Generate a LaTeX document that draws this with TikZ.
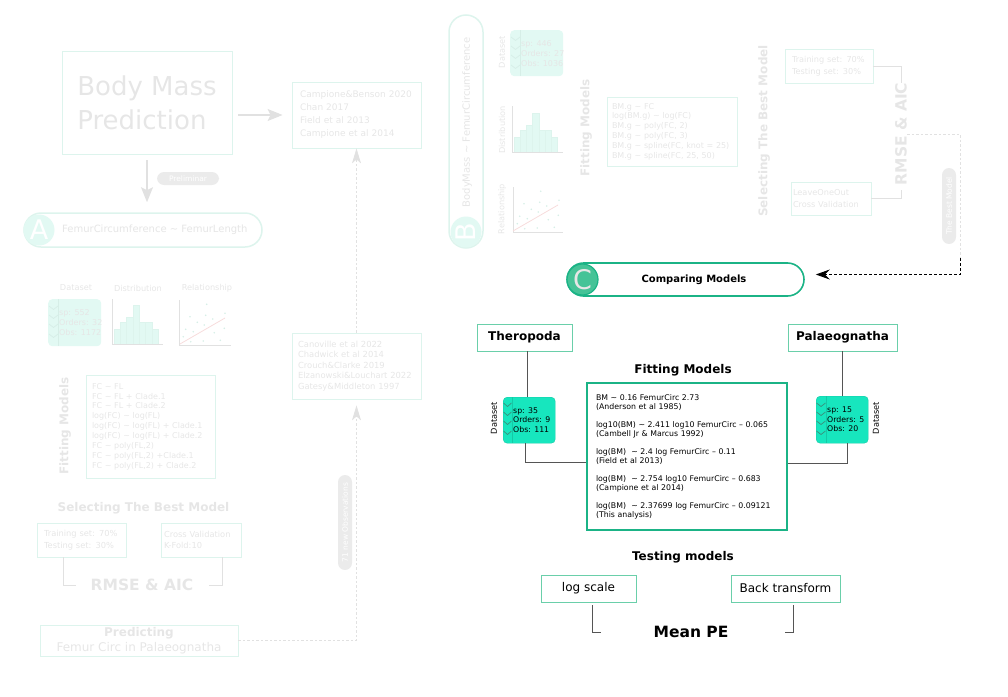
\documentclass[tikz,border=0pt]{standalone}
\usepackage{fontspec}
\setmainfont{DejaVu Sans}
\usetikzlibrary{arrows.meta}
\definecolor{fadetxt}{HTML}{E6E6E6}
\definecolor{fadeln}{HTML}{DDF4ED}
\definecolor{fadefill}{HTML}{E2F9F3}
\definecolor{fadepill}{HTML}{EBEBEB}
\definecolor{fadegray}{HTML}{E1E1E1}
\definecolor{fadered}{HTML}{F7DCDC}
\definecolor{fadedot}{HTML}{D6EEE7}
\definecolor{greenedge}{HTML}{1BB386}
\definecolor{mintedge}{HTML}{6ACFAA}
\definecolor{dsfill}{HTML}{17E6BE}
\definecolor{dsedge}{HTML}{14C9A6}
\definecolor{chevdark}{HTML}{3B8F7C}
\definecolor{cfill}{HTML}{45C397}
\definecolor{linkgray}{HTML}{555555}
\newcommand{\tlde}{\textasciitilde}
\begin{document}
\begin{tikzpicture}[x=1pt,y=-1pt,>=Stealth,
  fbox/.style={draw=fadeln,line width=0.8pt,text=fadetxt,inner sep=0pt,align=left},
  ftext/.style={text=fadetxt,inner sep=0pt},
  fpill/.style={fill=fadepill,text=white,rounded corners=7pt,inner sep=0pt,font=\fontsize{7.5}{9}\selectfont},
  fround/.style={draw=fadeln,line width=1.5pt,rounded corners=17pt,fill=white},
  fcirc/.style={circle,fill=fadefill,text=white,minimum size=31pt,inner sep=0pt,font=\fontsize{27}{30}\selectfont},
  fline/.style={fadegray,line width=0.9pt},
  farrow/.style={fadegray,line width=1.3pt,-{Stealth[length=15pt,width=12pt,inset=3pt]}},
  fdash/.style={fadegray,line width=0.8pt,dash pattern=on 2.5pt off 2pt},
  fup/.style={-{Stealth[length=15pt,width=9pt,inset=4pt]}},
  fbar/.style={draw=fadeln,fill=fadefill,line width=0.6pt},
  fdset/.style={fill=fadefill,rounded corners=4pt,minimum width=53pt,minimum height=47pt,inner sep=0pt},
  abox/.style={draw=mintedge,line width=0.9pt,minimum height=27pt,inner sep=0pt},
  adset/.style={draw=dsedge,fill=dsfill,rounded corners=4pt,minimum width=52pt,minimum height=46pt,inner sep=0pt},
  link/.style={linkgray,line width=0.9pt},
  flabel/.style={font=\fontsize{8.2}{10}\selectfont},
  fsmall/.style={font=\fontsize{8.3}{11.5}\selectfont},
  fmodel/.style={font=\fontsize{8}{9.85}\selectfont},
  dstext/.style={anchor=west,inner sep=0pt,align=left,font=\fontsize{7.8}{9.7}\selectfont},
  titleb/.style={font=\fontsize{12}{14}\selectfont\bfseries},
  bigb/.style={font=\fontsize{15.5}{18}\selectfont\bfseries},
]
\useasboundingbox (0,0) rectangle (1008,696);

% ---------- A : femur circumference ----------
\node[fbox,align=left,minimum width=170pt,minimum height=103pt,font=\fontsize{26}{34}\selectfont] (bmp) at (147,102.5) {Body Mass\\Prediction};
\node[fbox,minimum height=66pt,text width=113pt,inner xsep=8pt,font=\fontsize{9}{13}\selectfont] (refs1) at (356.5,115)
  {Campione\&Benson 2020\\Chan 2017\\Field et al 2013\\Campione et al 2014};
\draw[farrow,shorten <=6pt,shorten >=9pt] (bmp.east |- refs1.west) -- (refs1.west);

\node[fround,minimum width=238pt,minimum height=34pt] (apill) at (143,230) {};
\node[fcirc] (acirc) at (39,230) {A};
\node[ftext,anchor=west,font=\fontsize{10}{12}\selectfont] (alab) at (62,230) {FemurCircumference \tlde{} FemurLength};
\draw[farrow,shorten <=6pt,shorten >=10pt] (bmp.south) -- (bmp.south |- apill.north);
\node[fpill,minimum width=62pt,minimum height=13pt] (prelim) at (188,178.5) {Preliminar};

\node[ftext,flabel] (dsAt) at (76,288) {Dataset};
\node[ftext,flabel] (distAt) at (138,288) {Distribution};
\node[ftext,flabel] (relAt) at (207,288) {Relationship};
\begin{scope}[shift={(48,299)}]
  \node[fdset,anchor=north west] (dsA) at (0,0) {};
  \draw[fadedot,line width=0.7pt] (10,0) -- (10,47);
  \foreach \y in {9,18,27,37} \draw[fadedot,line width=0.7pt] (1,\y-2) -- (5.5,\y+1.5) -- (10,\y-2);
  \node[dstext,text=fadetxt,font=\fontsize{8}{9.6}\selectfont] (dsAtxt) at (11,23.5) {sp: 552\\Orders: 32\\Obs: 1172};
\end{scope}
\begin{scope}[shift={(112,344)}]
  \foreach \i/\h in {0/14.7,1/21.7,2/26.7,3/38.3,4/21.7,5/21.7,6/14.7}
    \draw[fbar] (2+\i*6.3,0) rectangle ++(6.3,-\h);
  \draw[fline] (0,-45) -- (0,0) -- (51,0);
\end{scope}
\begin{scope}[shift={(179,345)}]
  \draw[fline] (0,-45) -- (0,0) -- (52,0);
  \draw[fadered,line width=0.8pt] (1,-1) -- (46,-27);
  \foreach \a/\b in {27.7/-40.7,11/-28.3,26.7/-29.7,46/-31.7,33.7/-26,18.3/-22.7,25.3/-20,6.7/-15.7,14.3/-13.3,35.3/-12.3,45.3/-16.7,4.3/-8.3,11.7/-3.3,24.3/-4,41.3/-4.7}
    \fill[fadedot] (\a,\b) circle (0.9pt);
\end{scope}

\node[ftext,titleb,rotate=90] (fitAt) at (65,426) {Fitting Models};
\node[fbox,fmodel,minimum height=103pt,text width=117pt,inner xsep=6pt] (fitA) at (150.5,426.5)
  {FC \tlde{} FL\\FC \tlde{} FL + Clade.1\\FC \tlde{} FL + Clade.2\\log(FC) \tlde{} log(FL)\\log(FC) \tlde{} log(FL) + Clade.1\\log(FC) \tlde{} log(FL) + Clade.2\\FC \tlde{} poly(FL,2)\\FC \tlde{} poly(FL,2) +Clade.1\\FC \tlde{} poly(FL,2) + Clade.2};

\node[ftext,titleb] (selAt) at (143.5,508) {Selecting The Best Model};
\node[fbox,fsmall,minimum height=34pt,text width=75pt,inner xsep=7pt] (trainA) at (81.5,540) {Training set: 70\%\\Testing set: 30\%};
\node[fbox,fsmall,minimum height=34pt,text width=74pt,inner xsep=3pt] (crossA) at (201,540) {Cross Validation\\K-Fold:10};
\node[ftext,bigb] (rmseA) at (142,585) {RMSE \& AIC};
\draw[fline] ([xshift=-18.5pt]trainA.south) |- ([xshift=-15pt]rmseA.west);
\draw[fline] ([xshift=21pt]crossA.south) |- ([xshift=16pt]rmseA.east);

\node[fbox,align=center,minimum width=198pt,minimum height=31pt,font=\fontsize{12}{15}\selectfont] (pred) at (139,640.5)
  {\bfseries Predicting\\Femur Circ in Palaeognatha};
\node[fbox,minimum height=66pt,text width=117pt,inner xsep=6pt,font=\fontsize{8.4}{10.5}\selectfont] (refs2) at (356.5,366)
  {Canoville et al 2022\\Chadwick et al 2014\\Crouch\&Clarke 2019\\Elzanowski\&Louchart 2022\\Gatesy\&Middleton 1997};
\draw[fdash,fup,shorten >=6pt] (pred.east) -| (refs2.south);
\draw[fdash,fup] (refs2.north) -- (refs1.south);
\node[fpill,rotate=90,minimum width=95pt,minimum height=14pt] (obs) at (345,522.5) {71 new Observations};

% ---------- B : body mass ----------
\node[fround,minimum width=34pt,minimum height=233pt] (bpill) at (466,131.5) {};
\node[fcirc,rotate=90] (bcirc) at (466,232) {B};
\node[ftext,rotate=90,font=\fontsize{10}{12}\selectfont] (blab) at (467,122.5) {BodyMass \tlde{} FemurCircumference};

\node[ftext,flabel,rotate=90] (dsBt) at (502,52) {Dataset};
\node[ftext,flabel,rotate=90] (distBt) at (502,130) {Distribution};
\node[ftext,flabel,rotate=90] (relBt) at (502,209) {Relationship};
\begin{scope}[shift={(510,30)}]
  \node[fdset,anchor=north west,minimum height=46pt] (dsB) at (0,0) {};
  \draw[fadedot,line width=0.7pt] (10,0) -- (10,46);
  \foreach \y in {9,18,27,37} \draw[fadedot,line width=0.7pt] (1,\y-2) -- (5.5,\y+1.5) -- (10,\y-2);
  \node[dstext,text=fadetxt,font=\fontsize{8}{9.6}\selectfont] (dsBtxt) at (11,23.5) {sp: 446\\Orders: 27\\Obs: 1036};
\end{scope}
\begin{scope}[shift={(512,152)}]
  \foreach \i/\h in {0/15,1/22,2/27,3/38.5,4/22,5/22,6/15}
    \draw[fbar] (2+\i*6.2,0) rectangle ++(6.2,-\h);
  \draw[fline] (0,-46) -- (0,0) -- (51,0);
\end{scope}
\begin{scope}[shift={(513,232)}]
  \draw[fline] (0,-45) -- (0,0) -- (50,0);
  \draw[fadered,line width=0.8pt] (0,-1) -- (45,-27);
  \foreach \a/\b in {27.7/-40.7,11/-28.3,26.7/-29.7,46/-31.7,33.7/-26,18.3/-22.7,25.3/-20,6.7/-15.7,14.3/-13.3,35.3/-12.3,45.3/-16.7,4.3/-8.3,11.7/-3.3,24.3/-4,41.3/-4.7}
    \fill[fadedot] (\a,\b) circle (0.9pt);
\end{scope}

\node[ftext,titleb,rotate=90] (fitBt) at (586,128) {Fitting Models};
\node[fbox,fmodel,minimum height=69pt,text width=120pt,inner xsep=5pt] (fitB) at (672,131.5)
  {BM.g \tlde{} FC\\log(BM.g) \tlde{} log(FC)\\BM.g \tlde{} poly(FC, 2)\\BM.g \tlde{} poly(FC, 3)\\BM.g \tlde{} spline(FC, knot = 25)\\BM.g \tlde{} spline(FC, 25, 50)};

\node[ftext,titleb,rotate=90] (selBt) at (764,131) {Selecting The Best Model};
\node[fbox,font=\fontsize{8.2}{12.3}\selectfont,minimum height=34pt,text width=74pt,inner xsep=7pt] (trainB) at (829,66) {Training set: 70\%\\Testing set: 30\%};
\node[fbox,font=\fontsize{8.2}{12.3}\selectfont,minimum height=33pt,text width=76pt,inner xsep=2pt] (looB) at (831,198.5) {LeaveOneOut\\Cross Validation};
\node[ftext,bigb,rotate=90] (rmseB) at (901,134) {RMSE \& AIC};
\draw[fline] (trainB.east) -| (rmseB.east);
\draw[fline] (looB.east) -| ([yshift=-5pt]rmseB.west);
\node[fpill,rotate=90,minimum width=76pt,minimum height=14pt] (best) at (949,206) {The Best Model};

% ---------- C : comparing models ----------
\node[draw=greenedge,line width=1.6pt,rounded corners=16.5pt,minimum width=237pt,minimum height=33pt] (cpill) at (685.5,279.5) {};
\node[circle,draw=greenedge,line width=1.2pt,fill=cfill,text=fadetxt,minimum size=31pt,inner sep=0pt,font=\fontsize{27}{30}\selectfont] (ccirc) at (582.5,279.5) {C};
\node[font=\fontsize{10}{12}\selectfont\bfseries] (clab) at (694,280) {Comparing Models};
\coordinate (blk) at (960,258);
\draw[fdash] (rmseB.south) -| (blk);
\draw[line width=0.9pt,dash pattern=on 3pt off 2pt,-{Stealth[length=14pt,width=10pt,inset=5pt]}] (blk) |- ([xshift=11pt,yshift=5pt]cpill.east);

\node[abox,titleb,minimum width=95pt] (thero) at (524.5,337.5) {Theropoda};
\node[abox,titleb,minimum width=109pt] (palaeo) at (842.5,337.5) {Palaeognatha};
\node[titleb] (fitCt) at (683,370) {Fitting Models};
\node[draw=greenedge,line width=2pt,minimum height=147pt,text width=182pt,inner xsep=9pt,inner ysep=0pt,align=left,font=\fontsize{7.8}{9}\selectfont] (fit) at (687,456.5)
  {BM \tlde{} 0.16 FemurCirc 2.73\\(Anderson et al 1985)\\[9pt]
   log10(BM) \tlde{} 2.411 log10 FemurCirc – 0.065\\(Cambell Jr \& Marcus 1992)\\[9pt]
   log(BM)\ \ \tlde{} 2.4 log FemurCirc – 0.11\\(Field et al 2013)\\[9pt]
   log(BM)\ \ \tlde{} 2.754 log10 FemurCirc – 0.683\\(Campione et al 2014)\\[9pt]
   log(BM)\ \ \tlde{} 2.37699 log FemurCirc – 0.09121\\(This analysis)};

\node[rotate=90,flabel] (dsLt) at (494,418) {Dataset};
\begin{scope}[shift={(503,397)}]
  \node[adset,anchor=north west] (dsL) at (0,0) {};
  \draw[dsedge,line width=0.7pt] (9,0) -- (9,46);
  \foreach \y in {8,17,26,36} \draw[chevdark,line width=0.7pt] (0.5,\y-2) -- (4.5,\y+1.5) -- (8.5,\y-2);
  \node[dstext] (dsLtxt) at (10,23) {sp: 35\\Orders: 9\\Obs: 111};
\end{scope}
\node[rotate=90,flabel] (dsRt) at (876,418) {Dataset};
\begin{scope}[shift={(816,396)}]
  \node[adset,anchor=north west,minimum height=47pt] (dsR) at (0,0) {};
  \draw[dsedge,line width=0.7pt] (10,0) -- (10,47);
  \foreach \y in {9,18,27,37} \draw[chevdark,line width=0.7pt] (0.5,\y-2) -- (5,\y+1.5) -- (9.5,\y-2);
  \node[dstext] (dsRtxt) at (11,23.5) {sp: 15\\Orders: 5\\Obs: 20};
\end{scope}
\draw[link] ([xshift=3pt]thero.south) -- ([xshift=3pt]thero.south |- dsL.north);
\draw[link] (palaeo.south) -- (palaeo.south |- dsR.north);
\draw[link] ([xshift=-4pt]dsL.south) |- ([yshift=-5.5pt]fit.west);
\draw[link] ([xshift=5pt]dsR.south) |- ([yshift=-6.5pt]fit.east);

\node[titleb] (testt) at (683,557) {Testing models};
\node[abox,minimum width=95pt,font=\fontsize{12}{14}\selectfont] (logs) at (588.5,588.5) {log scale};
\node[abox,minimum width=109pt,font=\fontsize{12}{14}\selectfont] (backt) at (785.5,588.5) {Back transform};
\node[bigb] (meanpe) at (691,632) {Mean PE};
\draw[link] ([xshift=3.5pt,yshift=-3pt]logs.south) |- ([xshift=-49pt]meanpe.west);
\draw[link] ([xshift=7.5pt,yshift=-3pt]backt.south) |- ([xshift=53pt]meanpe.east);
\end{tikzpicture}
\end{document}
